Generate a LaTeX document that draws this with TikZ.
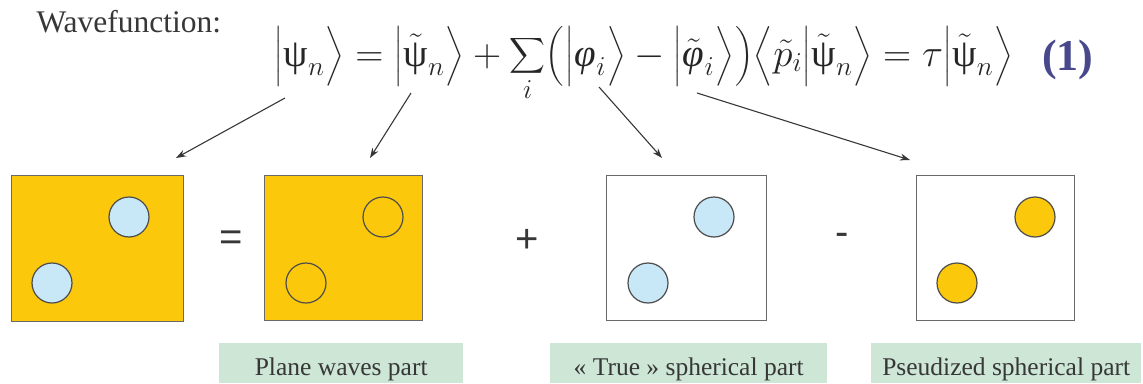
\RequirePackage{fix-cm}
\documentclass[tikz,border=0pt]{standalone}
\usepackage{amsmath}
\usepackage{fontspec}
\setmainfont{Liberation Serif}
\newfontfamily\opfont{Liberation Sans}
\usetikzlibrary{arrows.meta,calc}

\definecolor{gold}{RGB}{252,200,12}
\definecolor{lightblue}{RGB}{200,232,248}
\definecolor{labelgreen}{RGB}{205,230,214}
\definecolor{edgegray}{RGB}{105,105,105}
\definecolor{textgray}{RGB}{55,55,55}
\definecolor{eqblue}{RGB}{72,72,140}

\newcommand{\wpsi}{\text{ψ}}
\newcommand{\wphi}{\text{\itshape φ}}
\newcommand{\ld}[1]{\mathopen{\left#1\vcenter to 50pt{}\right.}}
\newcommand{\rd}[1]{\mathclose{\left.\vcenter to 50pt{}\right#1}}

\tikzset{
  cell/.style = {draw = edgegray, line width = 1.2pt, anchor = north west,
                 inner sep = 0pt},
  ball/.style = {circle, draw = black!70, line width = 1.2pt,
                 minimum size = 40pt, inner sep = 0pt},
  partlabel/.style = {fill = labelgreen, anchor = north west, inner sep = 0pt,
                      text height = 32pt, text depth = 8pt, text = textgray,
                      font = \fontsize{25.5}{30}\selectfont},
  op/.style = {font = \opfont\fontsize{40}{48}\selectfont, text = textgray},
  pointer/.style = {-{Stealth[length = 10pt, width = 7pt]}, line width = 1.1pt,
                    draw = textgray}
}

\begin{document}
\begin{tikzpicture}[x = 1pt, y = -1pt]
  \useasboundingbox (0,0) rectangle (1143,383);

  \node [anchor = base west, text = textgray,
         font = \fontsize{31.5}{36}\selectfont] (title) at (33,32) {Wavefunction:};
  \node [anchor = base west, inner sep = 0pt, text = black!85,
         font = \fontsize{39}{47}\selectfont] (eqn) at (274,66)
    {$\ld|\wpsi_n\rd\rangle = \ld|\tilde{\wpsi}_n\rd\rangle
      + \displaystyle\sum_i \ld(\ld|\wphi_i\rd\rangle
      - \ld|\tilde{\wphi}_i\rd\rangle\rd)
      \ld\langle\tilde{p}_i\ld|\tilde{\wpsi}_n\rd\rangle
      = \tau\ld|\tilde{\wpsi}_n\rd\rangle$};
  \node [anchor = base west, inner sep = 0pt, text = eqblue,
         font = \bfseries\fontsize{44}{52}\selectfont] (eqnum) at (1042,70) {(1)};

  % the four pictures
  \node [cell, fill = gold, minimum width = 172pt, minimum height = 146pt]
    (full) at (11,175) {};
  \node [ball, fill = lightblue] (fullA) at (129,217) {};
  \node [ball, fill = lightblue] (fullB) at (52,283) {};

  \node [cell, fill = gold, minimum width = 158pt, minimum height = 145pt]
    (smooth) at (264,175) {};
  \node [ball] (smoothA) at (383,217) {};
  \node [ball] (smoothB) at (306,283) {};

  \node [cell, fill = white, minimum width = 160pt, minimum height = 145pt]
    (true) at (606,175) {};
  \node [ball, fill = lightblue] (trueA) at (714,217) {};
  \node [ball, fill = lightblue] (trueB) at (648,283) {};

  \node [cell, fill = white, minimum width = 158pt, minimum height = 145pt]
    (pseudo) at (916,175) {};
  \node [ball, fill = gold] (pseudoA) at (1035,217) {};
  \node [ball, fill = gold] (pseudoB) at (957,283) {};

  \node [op] (eqsign) at (231,241) {=};
  \node [op] (plus) at (527,241) {+};
  \node [op] (minus) at (842,239) {-};

  % pointers from the equation
  \coordinate (psiterm) at (285,98);
  \coordinate (smoothterm) at (411,93);
  \coordinate (trueterm) at (599,87);
  \coordinate (pseudoterm) at (697,93);
  \draw [pointer] (psiterm) -- ($(full.north west)+(165,-17)$);
  \draw [pointer] (smoothterm) -- ($(smooth.north west)+(106,-17)$);
  \draw [pointer] (trueterm) -- ($(true.north west)+(56,-17)$);
  \draw [pointer] (pseudoterm) -- ($(pseudo.north west)+(-6,-15)$);

  \node [partlabel, minimum width = 244pt] (planelbl) at (219,343)
    {Plane waves part};
  \node [partlabel, minimum width = 277pt] (truelbl) at (550,343)
    {« True » spherical part};
  \node [partlabel, minimum width = 270pt] (pseudolbl) at (871,343)
    {Pseudized spherical part};
\end{tikzpicture}
\end{document}
